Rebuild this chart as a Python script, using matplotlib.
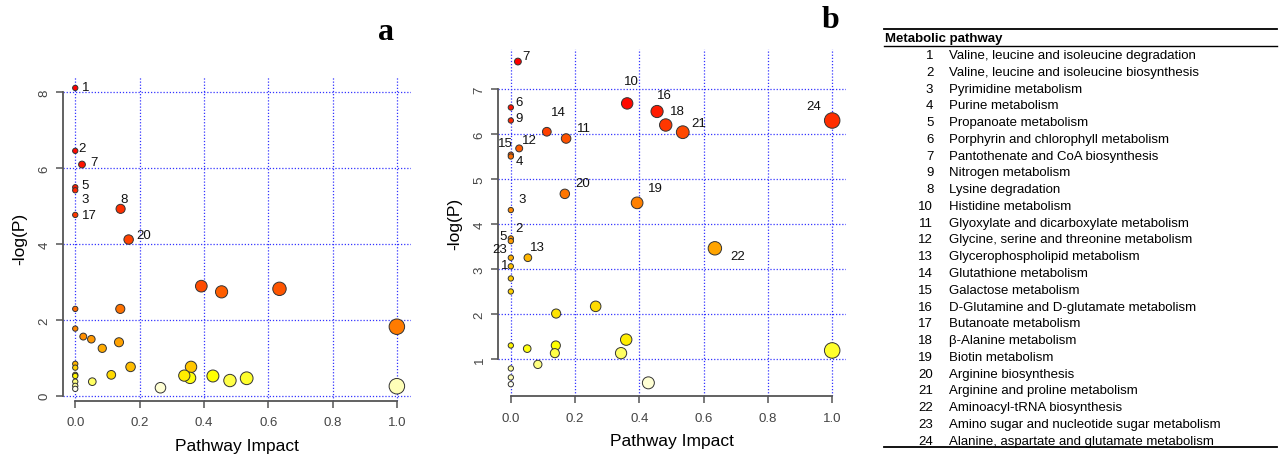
import colorsys

import matplotlib
matplotlib.use("Agg")
import matplotlib.pyplot as plt
import numpy as np

plt.rcParams['font.family'] = ['Liberation Sans', 'DejaVu Sans']

# panel a: pathway impact vs -log(P)
impact_a = [0.0, 0.0, 0.021, 0.0, 0.0, 0.141, 0.0, 0.166,
            0.392, 0.455, 0.635, 0.0, 0.140, 0.0, 1.0, 0.025, 0.05, 0.084, 0.136,
            0.172, 0.0, 0.0, 0.112, 0.0, 0.0, 0.053, 0.0, 0.0, 0.265, 0.36,
            0.339, 0.357, 0.428, 0.481, 0.533, 1.0, 0.0]
logp_a = [8.12, 6.46, 6.10, 5.50, 5.42, 4.93, 4.77, 4.12,
          2.89, 2.74, 2.82, 2.29, 2.29, 1.77, 1.82, 1.56, 1.49, 1.25, 1.41,
          0.76, 0.84, 0.74, 0.55, 0.55, 0.52, 0.37, 0.37, 0.26, 0.21, 0.76,
          0.53, 0.47, 0.52, 0.40, 0.46, 0.25, 0.18]
labels_a = ['1', '2', '7', '5', '3', '8', '17', '20'] + [''] * 29

# panel b
impact_b = [0.022, 0.0, 0.0, 0.112, 0.172, 0.026, 0.0, 0.0, 0.362, 0.455,
            0.482, 0.535, 1.0, 0.168, 0.393, 0.0, 0.0, 0.0, 0.0, 0.053, 0.0,
            0.635, 0.0, 0.0, 0.264, 0.141, 0.0, 0.051, 0.140, 0.137, 0.359,
            0.343, 1.0, 0.084, 0.0, 0.0, 0.0, 0.428]
logp_b = [7.61, 6.59, 6.30, 6.05, 5.90, 5.68, 5.54, 5.50, 6.68, 6.50,
          6.20, 6.04, 6.30, 4.67, 4.47, 4.31, 3.68, 3.62, 3.25, 3.25, 3.06,
          3.46, 2.79, 2.50, 2.17, 2.01, 1.30, 1.23, 1.30, 1.13, 1.43,
          1.13, 1.19, 0.88, 0.79, 0.59, 0.44, 0.47]
labels_b = ['7', '6', '9', '14', '11', '12', '15', '4', '10', '16',
            '18', '21', '24', '20', '19', '3', '2', '5', '23', '13', '1',
            '22'] + [''] * 16

pathway_ids = ['1', '2', '3', '4', '5', '6', '7', '9', '8', '10', '11', '12',
               '13', '14', '15', '16', '17', '18', '19', '20', '21', '22',
               '23', '24']
pathway_names = [
    'Valine, leucine and isoleucine degradation',
    'Valine, leucine and isoleucine biosynthesis',
    'Pyrimidine metabolism',
    'Purine metabolism',
    'Propanoate metabolism',
    'Porphyrin and chlorophyll metabolism',
    'Pantothenate and CoA biosynthesis',
    'Nitrogen metabolism',
    'Lysine degradation',
    'Histidine metabolism',
    'Glyoxylate and dicarboxylate metabolism',
    'Glycine, serine and threonine metabolism',
    'Glycerophospholipid metabolism',
    'Glutathione metabolism',
    'Galactose metabolism',
    'D-Glutamine and D-glutamate metabolism',
    'Butanoate metabolism',
    'β-Alanine metabolism',
    'Biotin metabolism',
    'Arginine biosynthesis',
    'Arginine and proline metabolism',
    'Aminoacyl-tRNA biosynthesis',
    'Amino sugar and nucleotide sugar metabolism',
    'Alanine, aspartate and glutamate metabolism',
]

# label offsets in pixels (dx right, dy down)
offs_a = {'1': (10.7, -1.3), '2': (7, -3), '7': (11.7, -3), '5': (10.3, -2),
          '3': (10, 8.3), '8': (3, -9.7), '17': (14, 0), '20': (15.3, -4.3)}
offs_b = {'7': (8.3, -5.3), '10': (4.3, -22.7), '16': (7, -16.3),
          '18': (11.3, -13.7), '21': (16.3, -9.3), '24': (-18.7, -14.7),
          '6': (8.7, -5), '9': (8.7, -2.7), '14': (11.3, -19.3),
          '11': (18.3, -11), '12': (10.3, -8.3), '15': (-5.7, -11.3),
          '4': (8.7, 4.3), '20': (18, -10.7), '19': (18.7, -15),
          '3': (11.7, -10.7), '2': (7.7, -10), '5': (-8, -5.3),
          '23': (-11.3, -8.7), '13': (9.7, -11), '1': (-5.7, -1.7),
          '22': (23, 7.3)}

W, H = 1283, 456
PT = 0.72  # points per pixel at dpi 100


def heat_colors(n):
    # R heat.colors
    j = n // 4
    i = n - j
    cols = [colorsys.hsv_to_rgb(k / (i - 1) / 6.0, 1, 1) for k in range(i)]
    if j > 0:
        for s in np.linspace(1 - 1 / (2 * j), 1 / (2 * j), j):
            cols.append(colorsys.hsv_to_rgb(1 / 6.0, s, 1))
    return cols


def bubble_panel(ax, impact, logp, labels, offs, ylim, yticks, ybounds):
    impact = np.array(impact)
    logp = np.array(logp)
    n = len(logp)
    pal = heat_colors(n)
    order = np.argsort(-logp, kind='stable')
    colors = [None] * n
    for r, k in enumerate(order):
        colors[k] = pal[r]
    diam = 5.3 + 10.2 * np.sqrt(impact)
    sizes = (diam * PT) ** 2
    # draw big ones first
    idx = np.argsort(-sizes, kind='stable')
    ax.scatter(impact[idx], logp[idx], s=sizes[idx],
               c=[colors[k] for k in idx], edgecolors='#333333',
               linewidths=0.7, zorder=3)
    for k, lab in enumerate(labels):
        if lab:
            dx, dy = offs[lab]
            ax.annotate(lab, (impact[k], logp[k]), xytext=(dx * PT, -dy * PT),
                        textcoords='offset points', ha='center', va='center',
                        fontsize=9.5, color='#111111', zorder=4)
    ax.set_xlim(-0.039, 1.043)
    ax.set_ylim(*ylim)
    ax.set_xticks([0.0, 0.2, 0.4, 0.6, 0.8, 1.0])
    ax.set_xticklabels(['0.0', '0.2', '0.4', '0.6', '0.8', '1.0'])
    ax.set_yticks(yticks)
    ax.grid(True, color='#3333ff', linestyle=(0, (1, 1.5)), linewidth=0.9,
            zorder=0)
    ax.set_axisbelow(True)
    for sp in ['top', 'right']:
        ax.spines[sp].set_visible(False)
    ax.spines['left'].set_bounds(*ybounds)
    ax.spines['bottom'].set_bounds(0, 1)
    for sp in ['left', 'bottom']:
        ax.spines[sp].set_color('#555555')
        ax.spines[sp].set_linewidth(1.3)
    ax.tick_params(direction='out', length=5, width=1.1, color='#555555',
                   labelsize=9.5, labelcolor='#444444')
    ax.tick_params(axis='x', pad=6)
    ax.tick_params(axis='y', pad=4)
    for t in ax.get_yticklabels():
        t.set_rotation(90)
        t.set_va('center')
    ax.set_xlabel('Pathway Impact', fontsize=12.5, labelpad=7)
    ax.set_ylabel('-log(P)', fontsize=12.5, labelpad=8)


fig = plt.figure(figsize=(W / 100, H / 100), dpi=100)

ax_a = fig.add_axes([62.7 / W, 1 - 401.7 / H, 348 / W, 325 / H])
bubble_panel(ax_a, impact_a, logp_a, labels_a, offs_a,
             (-0.132, 8.443), [0, 2, 4, 6, 8], (0, 8))

ax_b = fig.add_axes([498.3 / W, 1 - 397.3 / H, 347.7 / W, 347.3 / H])
bubble_panel(ax_b, impact_b, logp_b, labels_b, offs_b,
             (0.171, 7.889), [1, 2, 3, 4, 5, 6, 7], (1, 7))

# panel letters and table on an overlay in pixel coordinates
ov = fig.add_axes([0, 0, 1, 1], facecolor='none')
ov.set_xlim(0, W)
ov.set_ylim(H, 0)
ov.axis('off')
ov.text(385.7, 32, 'a', fontsize=23, fontweight='bold', ha='center',
        va='center', family='Liberation Serif')
ov.text(830, 20, 'b', fontsize=23, fontweight='bold', ha='center',
        va='center', family='Liberation Serif')

ov.plot([884, 1277], [30, 30], color='black', lw=1.3)
ov.text(885, 39.3, 'Metabolic pathway', fontsize=9.5, fontweight='bold',
        ha='left', va='center')
ov.plot([884, 1277], [46.7, 46.7], color='black', lw=1.0)
for r, (pid, name) in enumerate(zip(pathway_ids, pathway_names)):
    y = 56 + r * 16.77
    ov.text(933.3, y, pid, fontsize=9.5, ha='right', va='center')
    ov.text(948.7, y, name, fontsize=9.5, ha='left', va='center')
ov.plot([884, 1277], [448.3, 448.3], color='black', lw=1.3)

fig.savefig('out.png', dpi=100)
